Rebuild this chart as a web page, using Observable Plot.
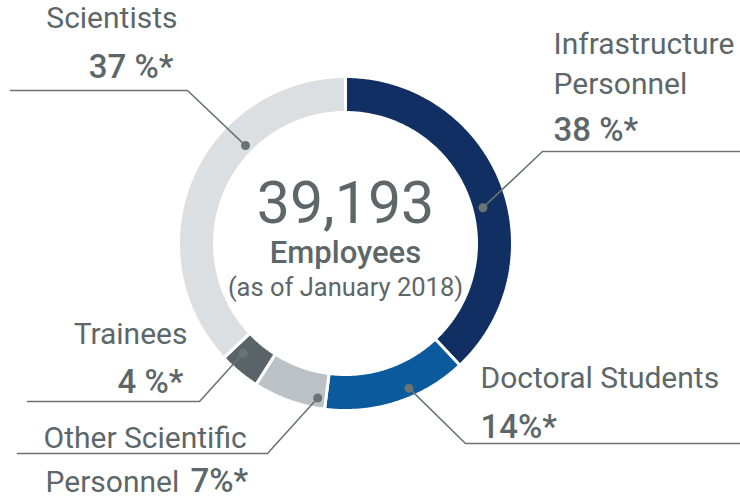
<!DOCTYPE html>
<html><head><meta charset="utf-8">
<script src="https://cdn.jsdelivr.net/npm/d3@7"></script>
<script src="https://cdn.jsdelivr.net/npm/@observablehq/plot@0.6"></script>
<style>body{margin:0;background:#fff}#chart svg{display:block;font-family:Roboto,"Noto Sans",sans-serif}</style>
</head><body><div id="chart"></div>
<script>
// ---- data ----
const categories = ["Infrastructure Personnel", "Doctoral Students", "Other Scientific Personnel", "Trainees", "Scientists"];
const shares = [38, 14, 7, 4, 37];
const percentLabels = ["38 %*", "14%*", "7%*", "4 %*", "37 %*"];
const colors = ["#112f62", "#0b5a9d", "#bcc1c5", "#5a6367", "#dbdfe2"];
const totalLabel = "39,193";
const centerLines = ["Employees", "(as of January 2018)"];

// ---- layout ----
const W = 740, H = 498;
const cx = 345, cy = 243, R = 167, r = 131;
const textColor = "#5d6769", lineColor = "#6b7474";
// leader dot (angle deg clockwise from top, radius) and bend / end points
const leaders = [
  {dotA: 75.4, dotR: 142, bend: [542, 151], end: [740, 151]},
  {dotA: 156.3, dotR: 158, bend: [465, 443], end: [740, 443]},
  {dotA: 190.2, dotR: 157, bend: [267, 453], end: [17, 453]},
  {dotA: 223, dotR: 150, bend: [199, 401], end: [27, 401]},
  {dotA: 314.4, dotR: 140, bend: [187, 90], end: [10, 90]}
];
const nameLabels = [
  [{t: "Infrastructure", x: 553, y: 53, a: "start"}, {t: "Personnel", x: 553, y: 93, a: "start"}],
  [{t: "Doctoral Students", x: 480, y: 387, a: "start"}],
  [{t: "Other Scientific", x: 43, y: 447, a: "start"}, {t: "Personnel", x: 45, y: 491, a: "start"}],
  [{t: "Trainees", x: 187, y: 343, a: "end"}],
  [{t: "Scientists", x: 177, y: 27, a: "end"}]
];
const pctPos = [
  {x: 553, y: 140, a: "start"},
  {x: 480, y: 437, a: "start"},
  {x: 190, y: 491, a: "start"},
  {x: 183, y: 392, a: "end"},
  {x: 173, y: 77, a: "end"}
];

const pt = (deg, rad) => {
  const t = deg * Math.PI / 180;
  return [cx + rad * Math.sin(t), cy - rad * Math.cos(t)];
};

// slices
const total = d3.sum(shares);
const slicePts = [];
let acc = 0;
categories.forEach((c, i) => {
  const a0 = acc / total * 360, a1 = (acc + shares[i]) / total * 360;
  acc += shares[i];
  const n = Math.max(4, Math.ceil((a1 - a0) * 2));
  const outer = d3.range(n + 1).map(k => pt(a0 + (a1 - a0) * k / n, R));
  const inner = d3.range(n + 1).map(k => pt(a1 - (a1 - a0) * k / n, r));
  [...outer, ...inner, outer[0]].forEach(([x, y]) => slicePts.push({name: c, x, y}));
});

const dots = leaders.map((l, i) => {
  const [x, y] = pt(l.dotA, l.dotR);
  return {name: categories[i], x, y};
});
const leaderPts = leaders.flatMap((l, i) => [
  {name: categories[i], x: dots[i].x, y: dots[i].y},
  {name: categories[i], x: l.bend[0], y: l.bend[1]},
  {name: categories[i], x: l.end[0], y: l.end[1]}
]);
const names = nameLabels.flat();
const pcts = pctPos.map((p, i) => ({...p, t: percentLabels[i]}));

const nameOpts = {x: "x", y: "y", text: "t", lineAnchor: "bottom", fontSize: 30, fill: textColor};
const pctOpts = {x: "x", y: "y", text: "t", lineAnchor: "bottom", fontSize: 33, fontWeight: 500, fill: textColor};

const chart = Plot.plot({
  width: W, height: H, margin: 0,
  x: {domain: [0, W], range: [0, W], axis: null},
  y: {domain: [0, H], range: [0, H], axis: null},
  color: {domain: categories, range: colors},
  marks: [
    Plot.line(slicePts, {x: "x", y: "y", z: "name", fill: "name", stroke: "white", strokeWidth: 3, strokeLinejoin: "miter"}),
    Plot.line(leaderPts, {x: "x", y: "y", z: "name", stroke: lineColor, strokeWidth: 1.6, curve: "linear"}),
    Plot.dot(dots, {x: "x", y: "y", r: 4.5, fill: lineColor}),
    Plot.text(names.filter(d => d.a === "start"), {...nameOpts, textAnchor: "start"}),
    Plot.text(names.filter(d => d.a === "end"), {...nameOpts, textAnchor: "end"}),
    Plot.text(pcts.filter(d => d.a === "start"), {...pctOpts, textAnchor: "start"}),
    Plot.text(pcts.filter(d => d.a === "end"), {...pctOpts, textAnchor: "end"}),
    Plot.text([totalLabel], {x: cx, y: 222, text: d => d, lineAnchor: "bottom", fontSize: 59, fontWeight: 400, fill: textColor}),
    Plot.text([centerLines[0]], {x: cx, y: 262, text: d => d, lineAnchor: "bottom", fontSize: 31, fontWeight: 500, fill: textColor}),
    Plot.text([centerLines[1]], {x: cx, y: 295, text: d => d, lineAnchor: "bottom", fontSize: 25.5, fill: textColor})
  ]
});
document.getElementById("chart").append(chart);
</script>
</body></html>
